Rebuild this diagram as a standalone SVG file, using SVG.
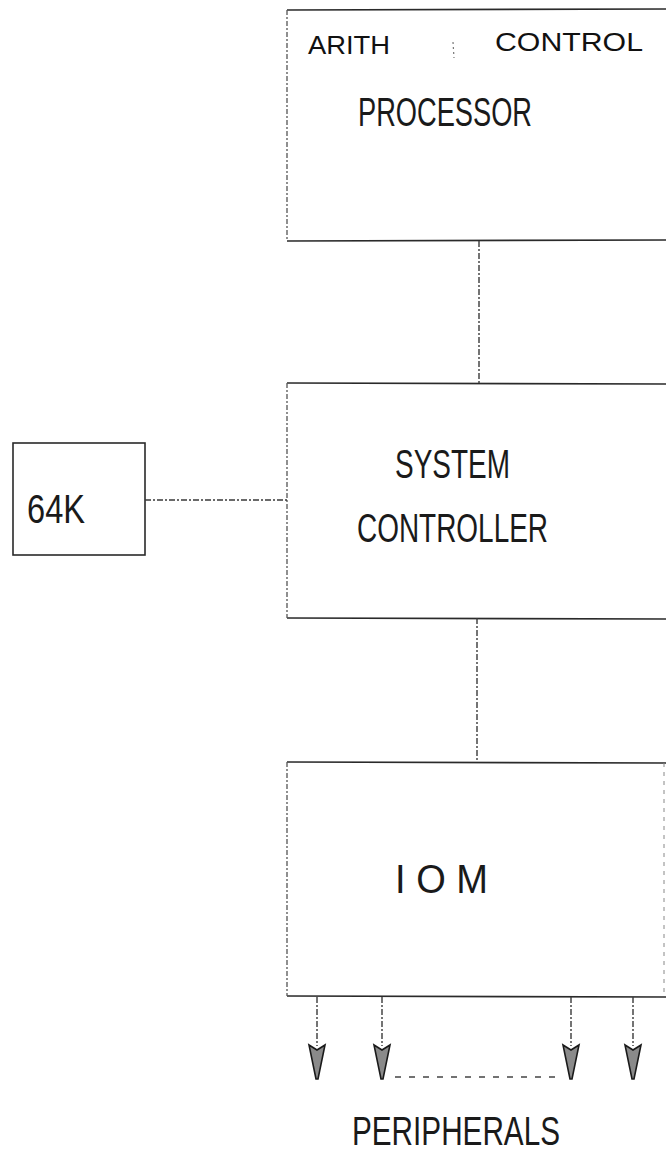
<svg xmlns="http://www.w3.org/2000/svg" width="666" height="1155" viewBox="0 0 666 1155">
<style>
.box{fill:none;stroke:#2a2a2a;stroke-width:1.6}
.side{fill:none;stroke:#555;stroke-width:1.3;stroke-dasharray:5 2 2 2}
.conn{fill:none;stroke:#3a3a3a;stroke-width:1.4;stroke-dasharray:6 2 2 2}
.lbl{font-family:"Liberation Sans",Arial,sans-serif;fill:#1a1a1a;font-size:41px}
.hand{font-family:"Liberation Sans",Arial,sans-serif;fill:#111;font-size:26px}
.head{fill:#8a8a8a;stroke:#1a1a1a;stroke-width:1.6}
</style>
<rect width="666" height="1155" fill="#ffffff"/>

<g id="processor">
  <path class="box" d="M287,10 L668,9"/>
  <path class="box" d="M287,241 L668,240"/>
  <path class="side" d="M287,10 L287,241"/>
  <text class="hand" x="308" y="54" textLength="82" lengthAdjust="spacingAndGlyphs">ARITH</text>
  <path d="M453,42 L454,58" stroke="#777" stroke-width="1.2" stroke-dasharray="2 3"/>
  <text class="hand" x="495" y="51" font-size="19" textLength="148" lengthAdjust="spacingAndGlyphs">CONTROL</text>
  <text class="lbl" x="358" y="126" textLength="174" lengthAdjust="spacingAndGlyphs">PROCESSOR</text>
</g>

<g id="mem64k">
  <rect class="box" x="13" y="443" width="132" height="112"/>
  <text class="lbl" x="27" y="523" textLength="58" lengthAdjust="spacingAndGlyphs">64K</text>
</g>

<g id="system-controller">
  <path class="box" d="M287,383 L668,384"/>
  <path class="box" d="M287,618 L668,619"/>
  <path class="side" d="M287,383 L287,618"/>
  <text class="lbl" x="395" y="478" textLength="115" lengthAdjust="spacingAndGlyphs">SYSTEM</text>
  <text class="lbl" x="357" y="542" textLength="191" lengthAdjust="spacingAndGlyphs">CONTROLLER</text>
</g>

<g id="iom">
  <path class="box" d="M287,762 L666,763"/>
  <path class="box" d="M287,996 L666,997"/>
  <path class="side" d="M287,762 L287,996"/>
  <path d="M664,763 L664,997" fill="none" stroke="#888" stroke-width="1" stroke-dasharray="4 5"/>
  <text class="lbl" x="395" y="893" textLength="93" lengthAdjust="spacingAndGlyphs">I O M</text>
</g>

<g id="connectors">
  <path class="conn" d="M479,241 L479,383"/>
  <path class="conn" d="M477,618 L477,762"/>
  <path class="conn" d="M145,500 L287,500"/>
  <path class="conn" d="M317,997 L317,1046"/>
  <path class="conn" d="M382,997 L382,1046"/>
  <path class="conn" d="M571,997 L571,1046"/>
  <path class="conn" d="M633,997 L633,1046"/>
  <path class="head" d="M309,1045 L317,1050 L325,1045 L318,1079 L316,1079 Z"/>
  <path class="head" d="M374,1045 L382,1050 L390,1045 L383,1079 L381,1079 Z"/>
  <path class="head" d="M563,1045 L571,1050 L579,1045 L572,1079 L570,1079 Z"/>
  <path class="head" d="M625,1045 L633,1050 L641,1045 L634,1079 L632,1079 Z"/>
  <path d="M395,1077 L557,1077" fill="none" stroke="#444" stroke-width="1.4" stroke-dasharray="6 8"/>
</g>

<g id="peripherals">
  <text class="lbl" x="352" y="1145" textLength="208" lengthAdjust="spacingAndGlyphs">PERIPHERALS</text>
</g>
</svg>
